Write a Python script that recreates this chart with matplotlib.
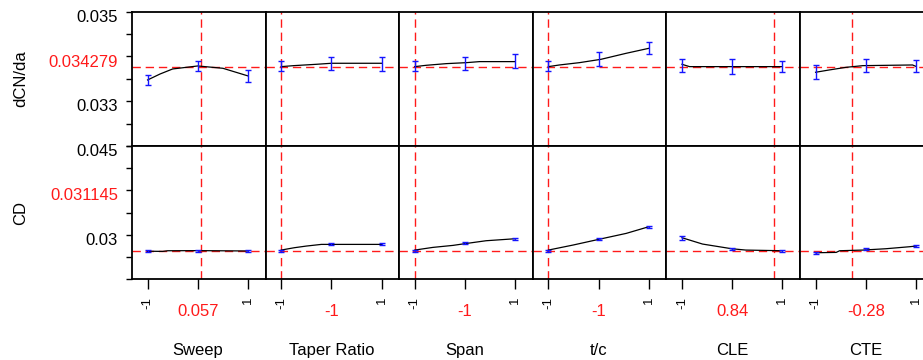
import numpy as np
import matplotlib.pyplot as plt

plt.rcParams['font.family'] = ['Liberation Sans', 'DejaVu Sans']

factors = ['Sweep', 'Taper Ratio', 'Span', 't/c', 'CLE', 'CTE']
current = [0.057, -1, -1, -1, 0.84, -0.28]
current_lbl = ['0.057', '-1', '-1', '-1', '0.84', '-0.28']
levels = [-1, 0, 1]

# dCN/da profile traces
dcn_pred = 0.033773
dcn_x = [[-1, -0.75, -0.5, 0, 0.5, 1],
         [-1, -0.75, -0.3, 0, 1],
         [-1, -0.77, -0.37, 0.03, 0.29, 1],
         [-1, -0.78, -0.38, 0.05, 0.55, 1],
         [-1, -0.85, 1],
         [-1, -0.72, -0.39, -0.06, 0.93, 1]]
dcn_y = [[0.033475, 0.033609, 0.033721, 0.033788, 0.033736, 0.033565],
         [0.033773, 0.033795, 0.033825, 0.033848, 0.033848],
         [0.033773, 0.033803, 0.03384, 0.033862, 0.033885, 0.033885],
         [0.033773, 0.03381, 0.033862, 0.033937, 0.034071, 0.034182],
         [0.033825, 0.033773, 0.033773],
         [0.033647, 0.0337, 0.033758, 0.033795, 0.03381, 0.033778]]
dcn_mean = [[0.033475, 0.033792, 0.033568],
            [0.033788, 0.03384, 0.033825],
            [0.033788, 0.03384, 0.033896],
            [0.033788, 0.03394, 0.03419],
            [0.033803, 0.033773, 0.033781],
            [0.03365, 0.033803, 0.033784]]
dcn_err = [[0.000112, 0.000115, 0.00013],
           [0.000119, 0.000141, 0.000156],
           [0.000119, 0.000141, 0.00016],
           [0.000119, 0.000153, 0.000141],
           [0.000149, 0.000171, 0.000126],
           [0.00016, 0.000149, 0.00013]]
dcn_ticks = np.arange(0.032, 0.03501, 0.0005)
dcn_lbl_pos = [0.035, 0.034, 0.033]
dcn_lbl = ['0.035', '0.034279', '0.033']

# CD profile traces
cd_pred = 0.027321
cd_x = [[-1, -0.7, -0.6, 0, 1],
        [-1, -0.74, -0.5, -0.2, 1],
        [-1, -0.64, -0.24, -0.01, 0.42, 1],
        [-1, -0.51, 0, 0.55, 1],
        [-1, -0.59, -0.01, 0.27, 1],
        [-1, -0.59, -0.52, -0.06, 0.4, 0.87, 1]]
cd_y = [[0.02724, 0.02721, 0.02732, 0.02734, 0.02728],
        [0.027434, 0.027828, 0.02811, 0.028392, 0.028392],
        [0.027434, 0.027885, 0.028223, 0.028504, 0.02901, 0.029348],
        [0.027434, 0.028279, 0.029236, 0.03025, 0.031375],
        [0.029517, 0.028448, 0.027659, 0.027434, 0.027321],
        [0.026983, 0.02704, 0.027321, 0.027434, 0.027659, 0.027997, 0.02811]]
cd_mean = [[0.02724, 0.02734, 0.02728],
           [0.02735, 0.028392, 0.028392],
           [0.02735, 0.028561, 0.029348],
           [0.02735, 0.029236, 0.031375],
           [0.029517, 0.027659, 0.027321],
           [0.026983, 0.027547, 0.02811]]
cd_err = [[0.00017, 0.00017, 0.00017],
          [0.00017, 0.00017, 0.00017],
          [0.00017, 0.00017, 0.00017],
          [0.00017, 0.00017, 0.00017],
          [0.00034, 0.00017, 0.00017],
          [0.00017, 0.00017, 0.00017]]
cd_ticks = np.arange(0.0225, 0.04501, 0.00375)
cd_lbl_pos = [0.045, 0.0375, 0.03]
cd_lbl = ['0.045', '0.031145', '0.03']

rows = [dict(name='dCN/da', pred=dcn_pred, xs=dcn_x, ys=dcn_y, mean=dcn_mean, err=dcn_err,
             ticks=dcn_ticks, lpos=dcn_lbl_pos, lbl=dcn_lbl, top=11.7, bot=146.0),
        dict(name='CD', pred=cd_pred, xs=cd_x, ys=cd_y, mean=cd_mean, err=cd_err,
             ticks=cd_ticks, lpos=cd_lbl_pos, lbl=cd_lbl, top=146.0, bot=279.3)]

W, H = 923, 360
left, pw = 132, 133.6
red = '#ff1a1a'
blue = '#1414ff'

fig = plt.figure(figsize=(W/100, H/100), dpi=100)

for r, row in enumerate(rows):
    top, bot = row['top'], row['bot']
    for c in range(6):
        ax = fig.add_axes([(left + c*pw)/W, 1 - bot/H, pw/W, (bot - top)/H])
        ax.plot(row['xs'][c], row['ys'][c], color='black', lw=0.9, zorder=3)
        ax.errorbar(levels, row['mean'][c], yerr=row['err'][c], fmt='none',
                    ecolor=blue, elinewidth=1, capsize=2.4, capthick=1, zorder=4)
        ax.axhline(row['pred'], color=red, lw=1, dashes=(6, 3.5), zorder=2)
        ax.axvline(current[c], color=red, lw=1, dashes=(6, 3.5), zorder=2)
        ax.set_xlim(-1.31, 1.35)
        ax.set_ylim(row['ticks'][0], row['ticks'][-1])
        for s in ax.spines.values():
            s.set_linewidth(1.3)
            s.set_color('black')

        if c == 0:
            ax.set_yticks(row['ticks'])
            ax.tick_params(axis='y', length=4, width=1, direction='out', labelleft=False)
            for v, t in zip(row['lpos'], row['lbl']):
                col = red if t not in ('0.035', '0.033', '0.045', '0.03') else 'black'
                ax.annotate(t, xy=(0, v), xycoords=('axes fraction', 'data'),
                            xytext=(-10, -4), textcoords='offset points',
                            ha='right', va='center', fontsize=12, color=col)
        else:
            ax.set_yticks([])

        if r == 1:
            ax.set_xticks(levels, ['-1', '', '1'])
            ax.tick_params(axis='x', length=7.5, width=1, direction='out', pad=5,
                           labelsize=9.5, labelrotation=90)
            ax.annotate(current_lbl[c], xy=(0, 0), xycoords=('data', 'axes fraction'),
                        xytext=(0, -23.5), textcoords='offset points',
                        ha='center', va='center', fontsize=12, color=red)
            ax.annotate(factors[c], xy=(0, 0), xycoords=('data', 'axes fraction'),
                        xytext=(0, -51), textcoords='offset points',
                        ha='center', va='center', fontsize=12, color='black')
        else:
            ax.set_xticks([])

    fig.text(21/W, 1 - (top + bot)/2/H, row['name'], rotation=90,
             ha='center', va='center', fontsize=12)

fig.savefig('out.png', dpi=100)
